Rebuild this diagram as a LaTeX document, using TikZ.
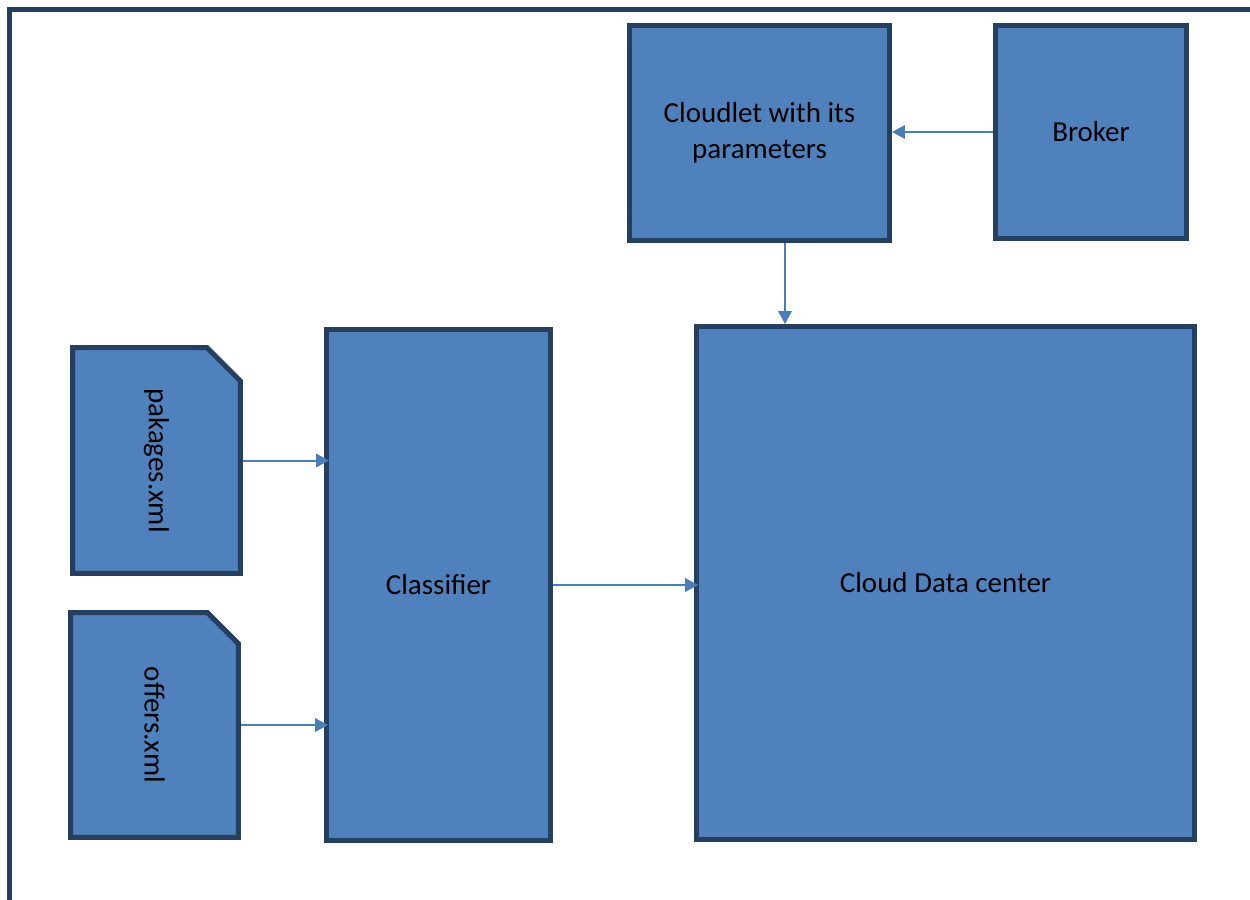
\documentclass[tikz,border=0pt]{standalone}
\usepackage{fontspec}
\setmainfont{Carlito}
\usetikzlibrary{arrows.meta,shapes.misc}
\definecolor{boxfill}{HTML}{4F81BD}
\definecolor{boxline}{HTML}{243F60}
\definecolor{arrowcol}{HTML}{4A7EBB}
\tikzset{
  block/.style={shape=rectangle,draw=boxline,fill=boxfill,line width=0.1cm,
    align=center,inner sep=0pt,font=\fontsize{16.5}{20.5}\selectfont},
  xmlfile/.style={block,shape=chamfered rectangle,chamfered rectangle corners=north east,
    chamfered rectangle xsep=0.42cm,chamfered rectangle ysep=0.42cm},
  flow/.style={draw=arrowcol,line width=0.04cm,-{Triangle[length=0.26cm,width=0.27cm]}}
}
\begin{document}
\begin{tikzpicture}[x=0.02cm,y=-0.02cm]
\useasboundingbox (0,0) rectangle (1250,899);
% page frame
\draw [boxline,line width=0.1cm] (9.5,905) -- (9.5,9.5) -- (1260,9.5);
\node (cw) at (759.5,133) [block,minimum width=5.2cm,minimum height=4.3cm] {\raisebox{-0.08cm}{\begin{tabular}{@{}c@{}}Cloudlet with its\\parameters\end{tabular}}};
\node (br) at (1091,132) [block,minimum width=3.82cm,minimum height=4.26cm] {Broker};
\node (cl) at (438.5,585) [block,minimum width=4.48cm,minimum height=10.22cm] {Classifier};
\node (dc) at (945.5,583) [block,minimum width=9.96cm,minimum height=10.26cm] {Cloud Data center};
\node (pk) at (156.5,460.5) [xmlfile,minimum width=3.36cm,minimum height=4.52cm] {\rotatebox{-90}{pakages.xml}};
\node (of) at (154.5,725) [xmlfile,minimum width=3.36cm,minimum height=4.5cm] {\rotatebox{-90}{offers.xml}};
\draw [flow] (br.west) -- (br.west -| cw.east);
\draw [flow] ([xshift=0.51cm]cw.south) -- ([xshift=0.51cm]cw.south |- dc.north);
\draw [flow] (pk.east) -- ([xshift=0.1cm]pk.east -| cl.west);
\draw [flow] (of.east) -- ([xshift=0.08cm]of.east -| cl.west);
\draw [flow] (cl.east) -- ([xshift=0.08cm]cl.east -| dc.west);
\end{tikzpicture}
\end{document}
